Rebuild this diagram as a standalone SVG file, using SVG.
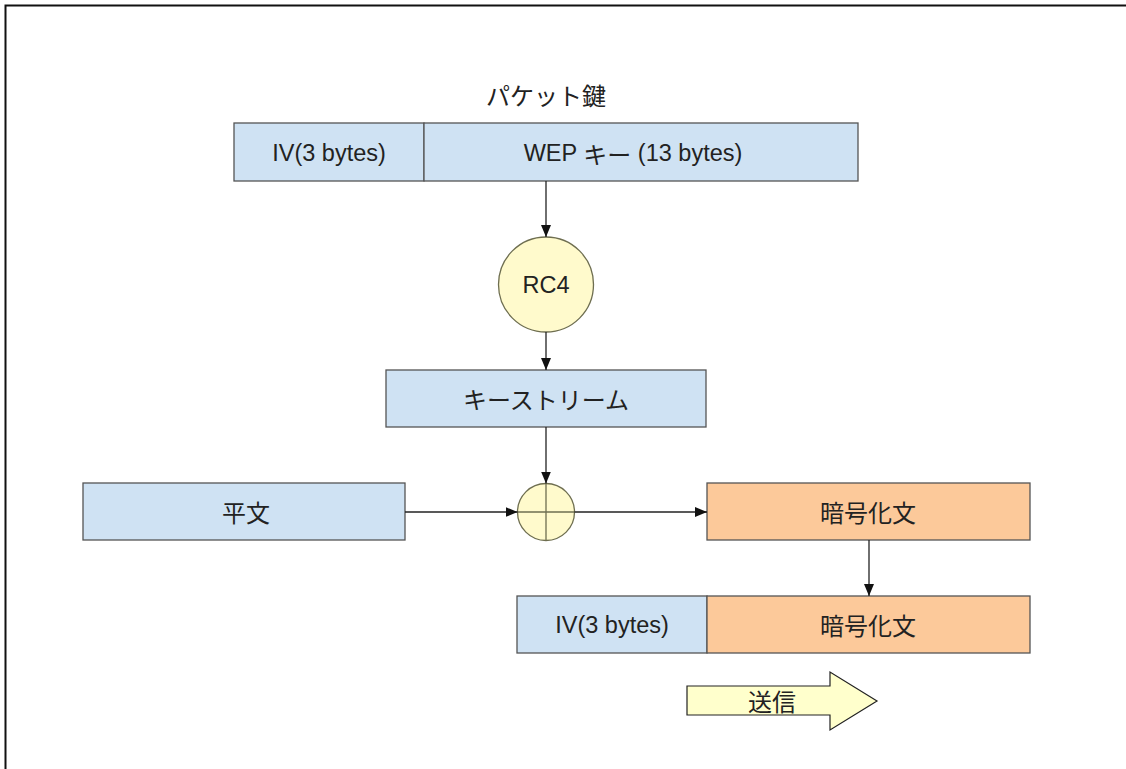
<svg xmlns="http://www.w3.org/2000/svg" width="1126" height="769" viewBox="0 0 1126 769">
  <style>
    .box { stroke: #555; stroke-width: 1.3; }
    .blue { fill: #cfe2f3; }
    .orange { fill: #fcc99a; }
    .yellow { fill: #fffacc; stroke: #6e6e50; stroke-width: 1.3; }
    .lbl { font-family: "Liberation Sans", "Noto Sans CJK JP", sans-serif; font-size: 23.5px; fill: #222; text-anchor: middle; dominant-baseline: central; }
    .jp { font-family: "Noto Sans CJK JP", sans-serif; font-size: 24px; }
    .conn { stroke: #222; stroke-width: 1.3; fill: none; }
  </style>
  <defs>
    <marker id="arrow" viewBox="0 0 12 12" refX="12" refY="6" markerWidth="12" markerHeight="12" markerUnits="userSpaceOnUse" orient="auto">
      <path d="M0,1 L12,6 L0,11 z" fill="#111"/>
    </marker>
  </defs>

  <rect width="1126" height="769" fill="#fff"/>
  <!-- outer frame -->
  <rect x="5.5" y="5.5" width="1130" height="780" fill="none" stroke="#111" stroke-width="2"/>

  <g id="title">
    <text class="lbl jp" x="546" y="94">パケット鍵</text>
  </g>

  <g id="packet-key">
    <rect class="box blue" x="234" y="123" width="190" height="58"/>
    <rect class="box blue" x="424" y="123" width="434" height="58"/>
    <text class="lbl" x="329" y="153">IV(3 bytes)</text>
    <text class="lbl" x="633" y="153">WEP <tspan class="jp">キー</tspan> (13 bytes)</text>
  </g>

  <g id="rc4">
    <circle class="yellow" cx="546" cy="284.5" r="47.5"/>
    <text class="lbl" x="546" y="285">RC4</text>
  </g>

  <g id="keystream">
    <rect class="box blue" x="386" y="370" width="320" height="57"/>
    <text class="lbl jp" x="546" y="398">キーストリーム</text>
  </g>

  <g id="xor">
    <circle class="yellow" cx="546" cy="512" r="28.5"/>
    <line x1="546" y1="483.5" x2="546" y2="540.5" stroke="#6e6e50" stroke-width="1.3"/>
    <line x1="517.5" y1="512" x2="574.5" y2="512" stroke="#6e6e50" stroke-width="1.3"/>
  </g>

  <g id="plaintext">
    <rect class="box blue" x="83" y="483" width="322" height="57"/>
    <text class="lbl jp" x="246" y="511">平文</text>
  </g>

  <g id="ciphertext">
    <rect class="box orange" x="707" y="483" width="323" height="57"/>
    <text class="lbl jp" x="868" y="511">暗号化文</text>
  </g>

  <g id="frame-out">
    <rect class="box blue" x="517" y="596" width="190" height="57"/>
    <rect class="box orange" x="707" y="596" width="323" height="57"/>
    <text class="lbl" x="612" y="625">IV(3 bytes)</text>
    <text class="lbl jp" x="868" y="624">暗号化文</text>
  </g>

  <g id="send">
    <path d="M687,686 L830,686 L830,672 L877,701 L830,730 L830,715 L687,715 z" fill="#ffffcc" stroke="#222" stroke-width="1.2"/>
    <text class="lbl jp" x="772" y="700">送信</text>
  </g>

  <g id="connectors">
    <line class="conn" x1="546" y1="181" x2="546" y2="237" marker-end="url(#arrow)"/>
    <line class="conn" x1="546" y1="332" x2="546" y2="370" marker-end="url(#arrow)"/>
    <line class="conn" x1="546" y1="427" x2="546" y2="483.5" marker-end="url(#arrow)"/>
    <line class="conn" x1="405" y1="512" x2="517.5" y2="512" marker-end="url(#arrow)"/>
    <line class="conn" x1="574.5" y1="512" x2="707" y2="512" marker-end="url(#arrow)"/>
    <line class="conn" x1="869" y1="540" x2="869" y2="596" marker-end="url(#arrow)"/>
  </g>
</svg>
